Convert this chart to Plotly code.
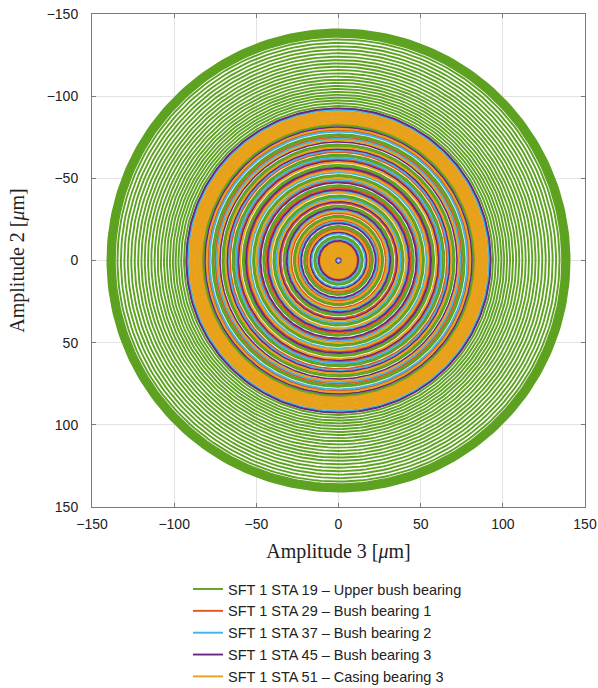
import numpy as np
import plotly.graph_objects as go

# ---- data: ring radii (µm) of each orbit ----
series_names = [
    "SFT 1 STA 19 \u2013 Upper bush bearing",
    "SFT 1 STA 29 \u2013 Bush bearing 1",
    "SFT 1 STA 37 \u2013 Bush bearing 2",
    "SFT 1 STA 45 \u2013 Bush bearing 3",
    "SFT 1 STA 51 \u2013 Casing bearing 3",
]
series_colors = ["#5ea221", "#e0571c", "#3fb4e6", "#6a2585", "#e8a11a"]

r_sta19 = [140.6, 140.1, 139.6, 139.1, 138.6, 138.1, 137.6, 137.1, 136.6,
           136.1, 134.5, 132.4, 130.3, 128.2, 126.1, 124.0, 121.9, 119.9,
           117.9, 115.9, 113.9, 111.9, 110.0, 108.1, 106.2, 104.4, 102.6,
           100.8, 99.1, 97.4, 95.7, 94.0, 92.4,
           83.0, 82.1, 76.8, 75.9, 70.6, 69.7, 64.4, 63.5, 58.2, 57.3,
           52.0, 51.1, 45.8, 44.9, 39.6, 38.7, 33.4, 32.5, 27.2, 26.3,
           21.0, 20.1, 14.8, 13.9, 6.0]
r_sta29 = [89.0, 79.3, 74.9, 66.0, 61.6, 55.4, 48.3, 43.9, 35.0, 28.8,
           24.4, 19.1, 11.1]
r_sta37 = [91.6, 78.4, 74.0, 66.9, 62.5, 53.6, 49.2, 42.1, 37.7, 30.6,
           23.5, 16.4, 12.9, 1.2]
r_sta45 = [92.6, 81.1, 72.2, 67.8, 60.7, 56.3, 47.4, 43.0, 35.9, 31.5,
           22.6, 17.3, 12.0, 2.0]
r_sta51 = [90.6, 89.8, 89.0, 88.2, 87.4, 86.6, 85.8, 85.0, 84.2, 83.5,
           80.2, 73.1, 68.7, 59.8, 54.5, 50.1, 41.2, 36.8, 29.7, 25.3,
           18.2, 10.6, 9.8, 9.0, 8.2, 7.4, 6.6, 5.8, 5.0, 4.2, 3.4, 2.6]

all_radii = [r_sta19, r_sta29, r_sta37, r_sta45, r_sta51]

x_ticks = [-150, -100, -50, 0, 50, 100, 150]
y_ticks = [-150, -100, -50, 0, 50, 100, 150]

# ---- build the traces ----
theta = np.linspace(0, 2 * np.pi, 241)
fig = go.Figure()
for name, color, radii in zip(series_names, series_colors, all_radii):
    xs, ys = [], []
    for r in radii:
        xs.extend((r * np.cos(theta)).tolist() + [None])
        ys.extend((r * np.sin(theta)).tolist() + [None])
    fig.add_trace(go.Scatter(x=xs, y=ys, mode="lines", name=name,
                             line=dict(color=color, width=1.9),
                             hoverinfo="skip"))

axis_common = dict(
    automargin=False,
    showgrid=True, gridcolor="#e3e3e3", gridwidth=1,
    showline=True, linecolor="#7a7a7a", linewidth=1, mirror="ticks",
    ticks="inside", ticklen=4, tickcolor="#7a7a7a",
    zeroline=False,
    tickfont=dict(family="Liberation Sans, Arial", size=14, color="#222222"),
)
title_font = dict(family="Liberation Serif, Times New Roman", size=20,
                  color="#222222")
fig.update_xaxes(range=[-150, 150], tickvals=x_ticks, ticklabelstandoff=4,
                 **axis_common,
                 title=dict(text="Amplitude 3 [<i>\u03bc</i>m]",
                            font=title_font, standoff=13))
fig.update_yaxes(range=[150, -150], tickvals=y_ticks, ticklabelstandoff=10,
                 **axis_common,
                 title=dict(text="Amplitude 2 [<i>\u03bc</i>m]",
                            font=title_font, standoff=16))

fig.update_layout(
    width=598, height=688,
    margin=dict(l=92, r=13, t=14, b=181, autoexpand=False),
    paper_bgcolor="white", plot_bgcolor="white",
    showlegend=True,
    legend=dict(x=0.1947, y=-0.134, xanchor="left", yanchor="top",
                bgcolor="rgba(0,0,0,0)",
                font=dict(family="Liberation Sans, Arial", size=14.5,
                          color="#222222"),
                tracegroupgap=0),
)

fig.write_html("out.html", config={"displayModeBar": False},
               post_script="document.body.style.margin='0';")
